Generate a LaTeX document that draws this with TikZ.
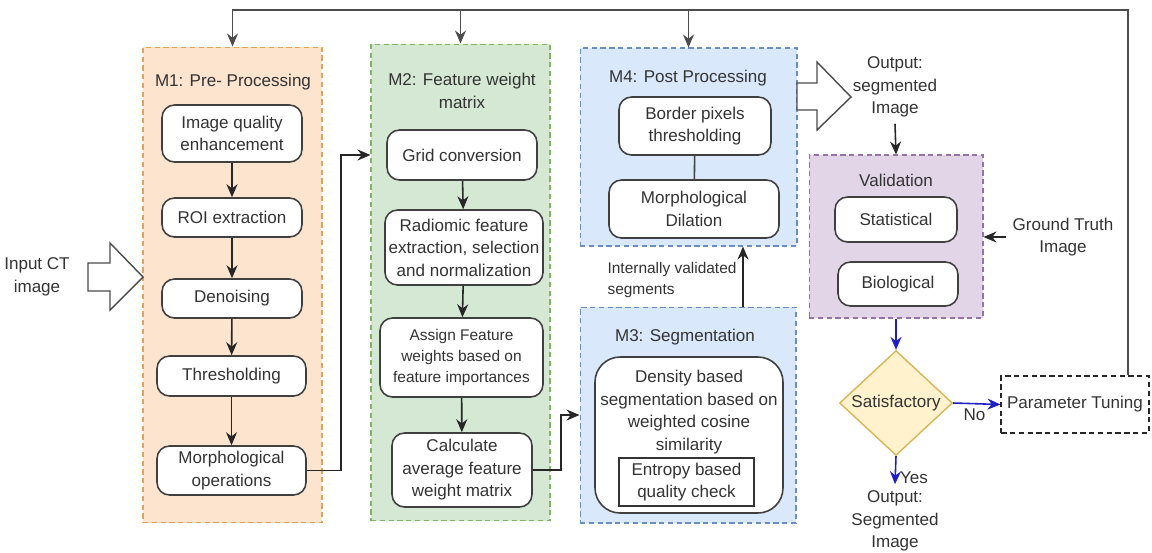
\documentclass[tikz,border=0pt]{standalone}
\usepackage{fontspec}
\setmainfont{Liberation Sans}
\usetikzlibrary{arrows.meta, shapes.geometric, calc, positioning}
\definecolor{mOrange}{HTML}{FCE4CF}
\definecolor{mOrangeLine}{HTML}{E0A458}
\definecolor{mGreen}{HTML}{D5E8D4}
\definecolor{mGreenLine}{HTML}{82B366}
\definecolor{mBlue}{HTML}{DAE8FC}
\definecolor{mBlueLine}{HTML}{6C8EBF}
\definecolor{mPurple}{HTML}{E1D5E7}
\definecolor{mPurpleLine}{HTML}{9673A6}
\definecolor{mYellow}{HTML}{FFF2CC}
\definecolor{mYellowLine}{HTML}{D6B656}
\definecolor{mFlow}{HTML}{1F1FC4}
\definecolor{mText}{HTML}{333333}
\tikzset{
  every picture/.append style = {line width=0.8pt, >={Stealth[length=2.6mm,width=2.2mm]}},
  every node/.append style = {font=\fontsize{9.7}{12.8}\selectfont, text=mText},
  module/.style   = {draw=#1Line, fill=#1, dash pattern=on 3pt off 2pt, line width=0.6pt, inner sep=0pt},
  procbox/.style  = {draw=black!75, fill=white, rounded corners=2.5mm, align=center, inner sep=1pt, line width=0.9pt},
  lbl/.style      = {align=center},
  slbl/.style     = {font=\fontsize{8.8}{12}\selectfont},
  flow/.style     = {->, black!85, line width=0.9pt},
  bflow/.style    = {->, mFlow, line width=0.9pt},
  bigarrow/.style = {draw=black!70, fill=white, line width=0.8pt, line join=miter},
}

\begin{document}
\begin{tikzpicture}[x=0.02cm,y=-0.02cm]
  \useasboundingbox (0,0) rectangle (1152,552);
  % module frames
  \node[module=mOrange, minimum width=3.58cm, minimum height=9.52cm] (m1) at (232.5,285) {};
  \node[module=mGreen,  minimum width=3.58cm, minimum height=9.54cm] (m2) at (460.5,282.5) {};
  \node[module=mBlue,   minimum width=4.34cm, minimum height=3.96cm] (m4) at (688.5,147) {};
  \node[module=mBlue,   minimum width=4.32cm, minimum height=4.32cm] (m3) at (688,415) {};
  \node[module=mPurple, minimum width=3.48cm, minimum height=3.26cm] (val) at (896,236.5) {};
  \node[lbl] (m1t) at (233,82) {M1: Pre- Processing};
  \node[lbl] (m2t) at (462,91) {M2: Feature weight\\matrix};
  \node[lbl] (m4t) at (688,78) {M4: Post Processing};
  \node[lbl] (m3t) at (685,337) {M3: Segmentation};
  \node[lbl] (valt) at (896,180) {Validation};

  % M1: pre-processing chain
  \node[procbox, minimum width=2.8cm, minimum height=1.14cm] (iqe) at (232,133.5) {Image quality\\enhancement};
  \node[procbox, minimum width=2.8cm, minimum height=0.78cm] (roi) at (232,217.5) {ROI extraction};
  \node[procbox, minimum width=2.8cm, minimum height=0.78cm] (den) at (232,298.5) {Denoising};
  \node[procbox, minimum width=2.98cm, minimum height=0.8cm] (thr) at (231.5,376) {Thresholding};
  \node[procbox, minimum width=2.98cm, minimum height=0.98cm] (mop) at (231.5,470.5) {Morphological\\operations};
  \foreach \a/\b in {iqe/roi, roi/den, den/thr, thr/mop}
    \draw[flow] (\a) -- (\b);

  % M2: feature weight matrix chain
  \node[procbox, minimum width=3.0cm, minimum height=1.0cm] (grid) at (462,155) {Grid conversion};
  \node[procbox, minimum width=3.16cm, minimum height=1.5cm] (rad) at (464,247.5) {Radiomic feature\\extraction, selection\\and normalization};
  \node[procbox, slbl, minimum width=3.26cm, minimum height=1.58cm] (asg) at (461.5,357.5) {Assign Feature\\weights based on\\feature importances};
  \node[procbox, minimum width=2.8cm, minimum height=1.48cm] (avg) at (462,470) {Calculate\\average feature\\weight matrix};
  \foreach \a/\b in {grid/rad, rad/asg, asg/avg}
    \draw[flow] (\a) -- (\b);

  % M4: post processing
  \node[procbox, minimum width=3.04cm, minimum height=1.16cm] (bpt) at (695,126) {Border pixels\\thresholding};
  \node[procbox, minimum width=3.4cm, minimum height=1.16cm] (mdil) at (694,209) {Morphological\\Dilation};
  \draw[black!75, line width=0.9pt] (bpt) -- (mdil);

  % M3: segmentation
  \node[procbox, rounded corners=5mm, minimum width=3.76cm, minimum height=3.12cm] (dbs) at (689,435) {};
  \node[lbl] (dbt) at (689,412) {Density based\\segmentation based on\\weighted cosine\\similarity};
  \node[draw=black!80, fill=white, align=center, inner sep=1pt, line width=0.8pt,
        minimum width=2.7cm, minimum height=0.96cm] (ent) at (686.5,482) {Entropy based\\quality check};

  % validation and decision
  \node[procbox, minimum width=2.44cm, minimum height=0.9cm] (stat) at (896,219.5) {Statistical};
  \node[procbox, minimum width=2.4cm, minimum height=0.88cm] (bio) at (898,284) {Biological};
  \node[diamond, draw=mYellowLine, fill=mYellow, inner sep=0pt, line width=0.8pt,
        minimum width=2.26cm, minimum height=1.8cm] (dia) at (896,403) {Satisfactory};
  \node[draw=black!85, dash pattern=on 3pt off 2pt, line width=0.9pt,
        minimum width=2.88cm, minimum height=1.14cm] (ptun) at (1075,404.5) {Parameter Tuning};

  % free labels
  \node[lbl] (inp) at (37,277) {Input CT\\image};
  \node[lbl] (out1) at (895,87) {Output:\\segmented\\Image};
  \node[lbl] (gt) at (1063,237) {Ground Truth\\Image};
  \node[lbl] (out2) at (895,521) {Output:\\Segmented\\Image};
  \node[slbl, align=left, anchor=west] (ivs) at (601,280) {Internally validated\\segments};

  % big hollow arrows
  \draw[bigarrow] (88,263) -- (110,263) -- (110,243) -- (143,277) -- (110,310) -- (110,291) -- (88,291) -- cycle;
  \draw[bigarrow] (797,83) -- (817,83) -- (817,62) -- (851,97) -- (817,130) -- (817,110) -- (797,110) -- cycle;

  % connectors between modules
  \draw[flow] (mop.east) -- ++(34,0) |- (m2.west |- grid.west);
  \draw[flow] (avg.east) -- ++(28,0) |- (m3.west);
  \coordinate (ivbase) at ($(m3.north)+(55,0)$);
  \draw[flow] (ivbase) -- (ivbase |- m4.south);
  \draw[flow] (out1.south) -- (val.north);
  \draw[flow] (gt.west) -- (gt.west -| val.east);

  % decision paths
  \draw[bflow] (val.south) -- (dia.north);
  \draw[bflow] (dia.east) -- node[below=-1pt, pos=0.45] {No} (ptun.west);
  \draw[bflow] (dia.south) -- node[right=-1pt, pos=0.75] {Yes} (out2.north);

  % feedback loop over the top
  \coordinate (loop) at (1128,10);
  \draw[flow, black!70] (ptun.north -| loop) -- (loop) -| (m1.north);
  \draw[flow, black!70] (m2.north |- loop) -- (m2.north);
  \draw[flow, black!70] (m4.north |- loop) -- (m4.north);
\end{tikzpicture}
\end{document}
